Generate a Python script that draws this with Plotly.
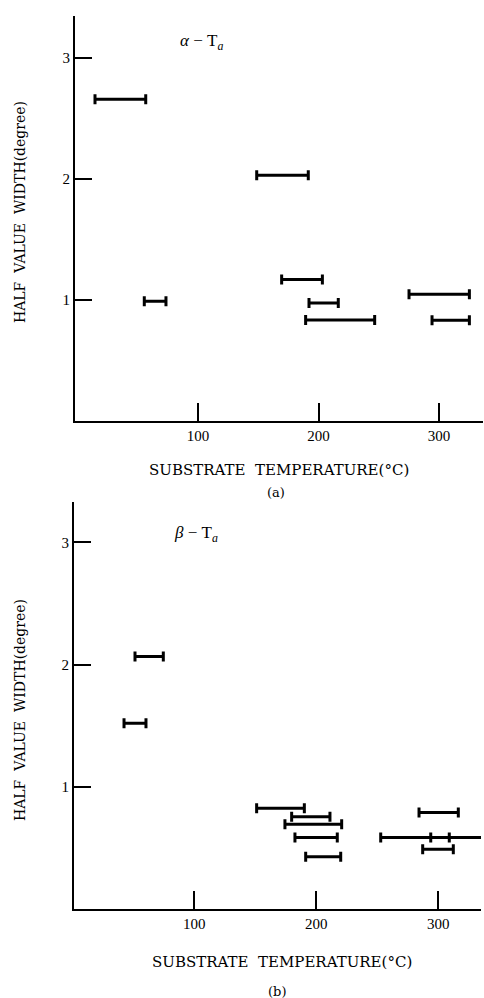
import plotly.graph_objects as go

# Panel (a): alpha - Ta
a_lo = [14.5, 148.7, 169.4, 55.4, 192.1, 189.3, 275.1, 294.2]
a_hi = [56.6, 191.5, 203.2, 73.4, 216.4, 246.6, 325.2, 325.2]
a_y = [2.66, 2.03, 1.17, 0.99, 0.975, 0.835, 1.047, 0.832]

# Panel (b): beta - Ta
b_lo = [51.4, 42.4, 151.1, 179.8, 174.3, 182.5, 191.3, 284.2, 252.8, 293.8, 287.2]
b_hi = [74.6, 60.4, 190.2, 211.2, 220.8, 217.2, 220.0, 316.4, 309.0, 350.0, 312.3]
b_y = [2.065, 1.52, 0.824, 0.755, 0.693, 0.584, 0.428, 0.79, 0.584, 0.584, 0.488]

x_ticks = [100, 200, 300]
y_ticks = [1, 2, 3]

FONT = "Liberation Serif"
TFONT = "DejaVu Serif"
W, H = 484, 998

fig = go.Figure()


def add_bars(lo, hi, y, xa, ya):
    cx = [(l + h) / 2 for l, h in zip(lo, hi)]
    err = [(h - l) / 2 for l, h in zip(lo, hi)]
    fig.add_trace(go.Scatter(
        x=cx, y=y, mode="markers", xaxis=xa, yaxis=ya,
        marker=dict(size=1, color="black", opacity=0),
        error_x=dict(type="data", array=err, symmetric=True,
                     color="black", thickness=3, width=5),
        showlegend=False, hoverinfo="skip"))


add_bars(a_lo, a_hi, a_y, "x", "y")
add_bars(b_lo, b_hi, b_y, "x2", "y2")

axis_common = dict(showgrid=False, zeroline=False, showline=True,
                   linecolor="black", linewidth=2, ticks="inside",
                   tickcolor="black", tickwidth=2,
                   tickfont=dict(family=FONT, size=15, color="black"))

fig.update_layout(
    width=W, height=H, margin=dict(l=0, r=0, t=0, b=0),
    paper_bgcolor="white", plot_bgcolor="white",
    xaxis=dict(domain=[75 / W, 483 / W], range=[-2.1, 336.5], tickvals=x_ticks,
               ticklen=18, anchor="y", **axis_common),
    yaxis=dict(domain=[1 - 421 / H, 1 - 16 / H], range=[0, 3.347], tickvals=y_ticks,
               ticklen=17, anchor="x", **axis_common),
    xaxis2=dict(domain=[74 / W, 481 / W], range=[1.4, 335], tickvals=x_ticks,
                ticklen=18, anchor="y2", **axis_common),
    yaxis2=dict(domain=[1 - 909 / H, 1 - 502 / H], range=[0, 3.33], tickvals=y_ticks,
                ticklen=17, anchor="x2", **axis_common),
)

sp = "\u00a0"
lab_font = dict(family=FONT, size=17, color="black")
t_font = dict(family=TFONT, size=14, color="black")
x_font = dict(family=TFONT, size=15, color="black")


def ann(text, x, y, font, xref="paper", yref="paper", angle=0, xanchor="center"):
    return dict(text=text, x=x, y=y, xref=xref, yref=yref, xanchor=xanchor,
                yanchor="middle", textangle=angle, showarrow=False, font=font)


annotations = [
    ann(f"<i>α</i>{sp}−{sp}T<sub><i>a</i></sub>", 83, 3.13, lab_font, "x", "y", xanchor="left"),
    ann(f"<i>β</i>{sp}−{sp}T<sub><i>a</i></sub>", 82, 3.07, lab_font, "x2", "y2", xanchor="left"),
    ann(f"HALF{sp}{sp}VALUE{sp}{sp}WIDTH(degree)", 20 / W, 1 - 212 / H, t_font, angle=-90),
    ann(f"HALF{sp}{sp}VALUE{sp}{sp}WIDTH(degree)", 20 / W, 1 - 710 / H, t_font, angle=-90),
    ann(f"SUBSTRATE{sp}{sp}TEMPERATURE(°C)", 279 / W, 1 - 470 / H, x_font),
    ann("(a)", 276 / W, 1 - 492 / H, dict(family=TFONT, size=13, color="black")),
    ann(f"SUBSTRATE{sp}{sp}TEMPERATURE(°C)", 282 / W, 1 - 962 / H, x_font),
    ann("(b)", 277 / W, 1 - 991 / H, dict(family=TFONT, size=13, color="black")),
]
fig.update_layout(annotations=annotations)

fig.write_html("out.html")
